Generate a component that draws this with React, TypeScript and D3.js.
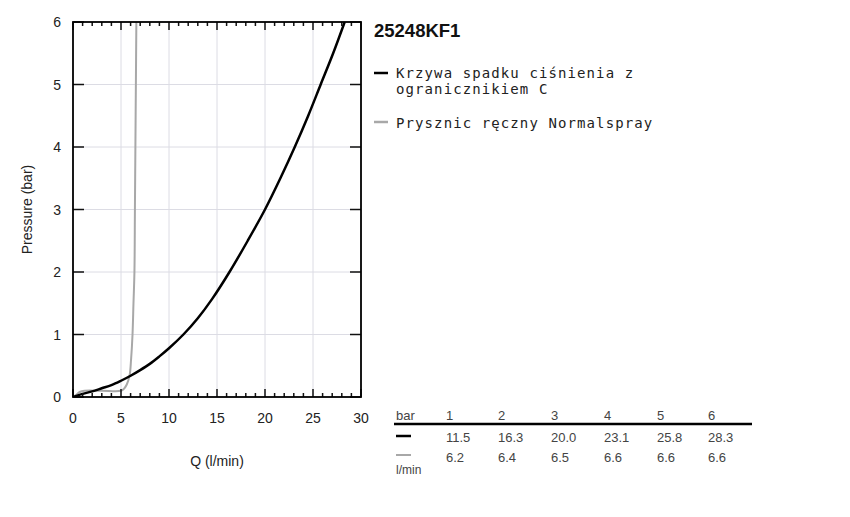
import React from "react";
import * as d3 from "d3";

const blackQ = [0, 1, 2, 3, 4, 5, 6, 7, 8, 9, 10, 11.5, 13, 14.5, 16.3, 18.2, 20, 21.6, 23.1, 24.5, 25.8, 27.1, 28.3];
const blackP = [0, 0.05, 0.09, 0.14, 0.19, 0.26, 0.34, 0.43, 0.53, 0.65, 0.78, 1, 1.26, 1.57, 2, 2.5, 3, 3.5, 4, 4.5, 5, 5.5, 6];
const grayQ = [0, 0.3, 0.7, 1.2, 3, 5.0, 5.3, 5.6, 5.9, 6.05, 6.2, 6.3, 6.4, 6.45, 6.5, 6.55, 6.6];
const grayP = [0, 0.03, 0.08, 0.1, 0.1, 0.1, 0.13, 0.2, 0.35, 0.6, 1, 1.5, 2, 3, 4, 5, 6];

const xTicks = [0, 5, 10, 15, 20, 25, 30];
const yTicks = [0, 1, 2, 3, 4, 5, 6];
const title = "25248KF1";
const legendLabels = [["Krzywa spadku ciśnienia z", "ogranicznikiem C"], ["Prysznic ręczny Normalspray"]];
const tableBars = ["1", "2", "3", "4", "5", "6"];
const tableBlack = ["11.5", "16.3", "20.0", "23.1", "25.8", "28.3"];
const tableGray = ["6.2", "6.4", "6.5", "6.6", "6.6", "6.6"];

export default function App() {
  const L = 73, R = 361, T = 22, B = 397;
  const x = d3.scaleLinear().domain([0, 30]).range([L, R]);
  const y = d3.scaleLinear().domain([0, 6]).range([B, T]);
  const line = d3.line<[number, number]>().x(d => x(d[0])).y(d => y(d[1])).curve(d3.curveCatmullRom.alpha(0.5));
  const blackPts = blackQ.map((q, i) => [q, blackP[i]] as [number, number]);
  const grayPts = grayQ.map((q, i) => [q, grayP[i]] as [number, number]);
  const minor = d3.range(0, 31, 1);
  const font = "'Liberation Sans', Arial, sans-serif";
  const mono = "'DejaVu Sans Mono', monospace";
  const colX = [446, 498, 551, 604, 657, 708];
  const monoStyle = { letterSpacing: "1.1px" };
  return (
    <svg width={850} height={517} style={{ position: "absolute", left: 0, top: 0, background: "#fff" }}>
      <defs>
        <clipPath id="plot"><rect x={L} y={T} width={R - L} height={B - T} /></clipPath>
      </defs>
      {xTicks.slice(1, -1).map(t => (
        <line key={"gx" + t} x1={x(t)} x2={x(t)} y1={T} y2={B} stroke="#dcdce4" strokeWidth={1} />
      ))}
      {yTicks.slice(1, -1).map(t => (
        <line key={"gy" + t} x1={L} x2={R} y1={y(t)} y2={y(t)} stroke="#dcdce4" strokeWidth={1} />
      ))}
      <g clipPath="url(#plot)">
        <path d={line(grayPts) || ""} fill="none" stroke="#a8a8a8" strokeWidth={2} />
        <path d={line(blackPts) || ""} fill="none" stroke="#000" strokeWidth={2.5} />
      </g>
      {minor.map(t => {
        const len = t % 5 === 0 ? 8 : 4;
        return (
          <g key={"mt" + t}>
            <line x1={x(t)} x2={x(t)} y1={B} y2={B - len} stroke="#111" strokeWidth={1.5} />
            <line x1={x(t)} x2={x(t)} y1={T} y2={T + len} stroke="#111" strokeWidth={1.5} />
          </g>
        );
      })}
      {yTicks.map(t => (
        <g key={"yt" + t}>
          <line x1={L} x2={L + 11} y1={y(t)} y2={y(t)} stroke="#111" strokeWidth={1.5} />
          <line x1={R} x2={R - 11} y1={y(t)} y2={y(t)} stroke="#111" strokeWidth={1.5} />
          <text x={61} y={y(t) + 5} textAnchor="end" fontFamily={font} fontSize={14} fill="#222">{t}</text>
        </g>
      ))}
      {xTicks.map(t => (
        <text key={"xl" + t} x={x(t)} y={423} textAnchor="middle" fontFamily={font} fontSize={14} fill="#222">{t}</text>
      ))}
      <rect x={L} y={T} width={R - L} height={B - T} fill="none" stroke="#000" strokeWidth={1.8} />
      <text x={217} y={466} textAnchor="middle" fontFamily={font} fontSize={14} fill="#222">Q (l/min)</text>
      <text transform={`translate(32,${(T + B) / 2}) rotate(-90)`} textAnchor="middle" fontFamily={font} fontSize={14} fill="#222">Pressure (bar)</text>

      <text x={374} y={37} fontFamily={font} fontSize={18.5} fontWeight="bold" fill="#111">{title}</text>
      <line x1={374} x2={388} y1={73} y2={73} stroke="#000" strokeWidth={2.5} />
      <text x={396} y={78} fontFamily={mono} fontSize={14} fill="#222" style={monoStyle}>{legendLabels[0][0]}</text>
      <text x={396} y={94} fontFamily={mono} fontSize={14} fill="#222" style={monoStyle}>{legendLabels[0][1]}</text>
      <line x1={374} x2={388} y1={122} y2={122} stroke="#a8a8a8" strokeWidth={2.5} />
      <text x={396} y={128} fontFamily={mono} fontSize={14} fill="#222" style={monoStyle}>{legendLabels[1][0]}</text>

      <text x={396} y={420} fontFamily={font} fontSize={13} fill="#444">bar</text>
      {tableBars.map((b, i) => (
        <text key={"tb" + i} x={colX[i]} y={420} fontFamily={font} fontSize={13} fill="#444">{b}</text>
      ))}
      <line x1={394} x2={752} y1={424} y2={424} stroke="#000" strokeWidth={2.5} />
      <line x1={396} x2={411} y1={436} y2={436} stroke="#000" strokeWidth={2.5} />
      {tableBlack.map((v, i) => (
        <text key={"tk" + i} x={colX[i]} y={442} fontFamily={font} fontSize={13} fill="#444">{v}</text>
      ))}
      <line x1={396} x2={411} y1={455} y2={455} stroke="#a8a8a8" strokeWidth={2} />
      {tableGray.map((v, i) => (
        <text key={"tg" + i} x={colX[i]} y={462} fontFamily={font} fontSize={13} fill="#444">{v}</text>
      ))}
      <text x={396} y={474} fontFamily={font} fontSize={12} fill="#444">l/min</text>
    </svg>
  );
}
